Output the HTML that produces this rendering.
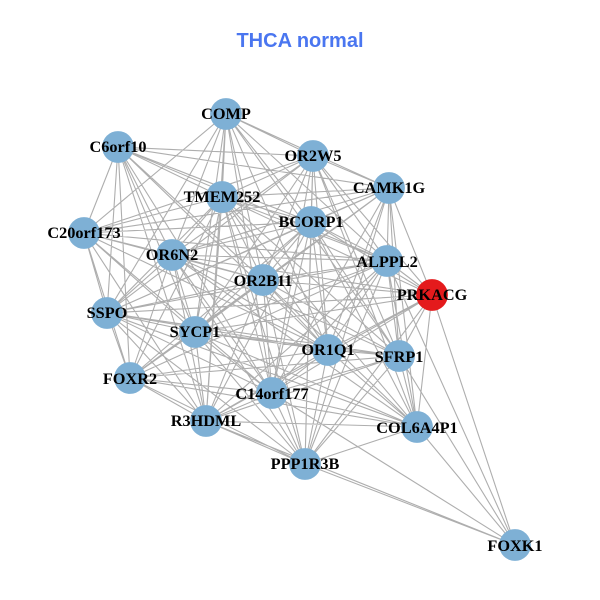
<!DOCTYPE html>
<html>
<head>
<meta charset="utf-8">
<title>THCA normal</title>
<style>
html,body{margin:0;padding:0;background:#fff;width:600px;height:600px;overflow:hidden}
svg{display:block}
.t{font-family:"Liberation Sans",sans-serif;font-weight:bold;font-size:20px;fill:#4a76f0;text-anchor:middle}
.l{font-family:"Liberation Serif",serif;font-weight:bold;font-size:16.3px;fill:#000;text-anchor:middle}
</style>
</head>
<body>
<svg width="600" height="600" viewBox="0 0 600 600" xmlns="http://www.w3.org/2000/svg">
<rect width="600" height="600" fill="#fff"/>
<text class="t" x="300" y="47">THCA normal</text>
<path fill="none" stroke="#aeaeae" stroke-width="1.1" d="
M226 114L84 233M226 114L172 255M226 114L222 197M226 114L263 280M226 114L195 332M226 114L311 222M226 114L313 156M226 114L389 188M226 114L387 261M226 114L328 350M226 114L272 393M226 114L107 313M226 114L206 421M226 114L399 356
M118 147L313 156M118 147L84 233M118 147L107 313M118 147L172 255M118 147L222 197M118 147L311 222M118 147L387 261M118 147L263 280M118 147L195 332M118 147L130 378M118 147L206 421M118 147L328 350M118 147L389 188M118 147L272 393
M313 156L389 188M313 156L222 197M313 156L311 222M313 156L172 255M313 156L84 233M313 156L387 261M313 156L263 280M313 156L195 332M313 156L328 350M313 156L399 356M313 156L107 313M313 156L417 427M313 156L272 393M313 156L305 464M313 156L432 295
M389 188L222 197M389 188L311 222M389 188L387 261M389 188L432 295M389 188L399 356M389 188L417 427M389 188L263 280M389 188L172 255M389 188L195 332M389 188L328 350M389 188L130 378M389 188L272 393M389 188L305 464M389 188L107 313M389 188L84 233
M222 197L311 222M222 197L84 233M222 197L172 255M222 197L263 280M222 197L387 261M222 197L432 295M222 197L107 313M222 197L195 332M222 197L328 350M222 197L399 356M222 197L130 378M222 197L272 393M222 197L206 421M222 197L417 427M222 197L305 464
M311 222L84 233M311 222L172 255M311 222L387 261M311 222L432 295M311 222L263 280M311 222L107 313M311 222L195 332M311 222L328 350M311 222L399 356M311 222L130 378M311 222L272 393M311 222L206 421M311 222L417 427M311 222L305 464
M84 233L172 255M84 233L387 261M84 233L263 280M84 233L107 313M84 233L195 332M84 233L130 378M84 233L328 350M84 233L272 393M84 233L206 421
M172 255L387 261M172 255L263 280M172 255L432 295M172 255L107 313M172 255L195 332M172 255L328 350M172 255L399 356M172 255L130 378M172 255L272 393M172 255L206 421M172 255L417 427M172 255L305 464
M387 261L263 280M387 261L432 295M387 261L107 313M387 261L195 332M387 261L328 350M387 261L399 356M387 261L130 378M387 261L272 393M387 261L206 421M387 261L417 427M387 261L305 464M387 261L515 545
M263 280L432 295M263 280L107 313M263 280L195 332M263 280L328 350M263 280L399 356M263 280L130 378M263 280L272 393M263 280L206 421M263 280L417 427M263 280L305 464
M432 295L107 313M432 295L195 332M432 295L328 350M432 295L399 356M432 295L272 393M432 295L206 421M432 295L417 427M432 295L305 464M432 295L515 545
M107 313L195 332M107 313L328 350M107 313L399 356M107 313L130 378M107 313L272 393M107 313L206 421M107 313L417 427M107 313L305 464
M195 332L328 350M195 332L399 356M195 332L130 378M195 332L272 393M195 332L206 421M195 332L417 427M195 332L305 464
M328 350L399 356M328 350L130 378M328 350L272 393M328 350L206 421M328 350L417 427M328 350L305 464
M399 356L130 378M399 356L272 393M399 356L206 421M399 356L417 427M399 356L305 464M399 356L515 545
M130 378L272 393M130 378L206 421M130 378L417 427M130 378L305 464
M272 393L206 421M272 393L417 427M272 393L305 464M272 393L515 545
M206 421L417 427M206 421L305 464M206 421L515 545
M417 427L305 464M417 427L515 545
M305 464L515 545"/>
<g fill="#7eb0d5">
<circle cx="226" cy="114" r="15.9"/>
<circle cx="118" cy="147" r="15.9"/>
<circle cx="313" cy="156" r="15.9"/>
<circle cx="389" cy="188" r="15.9"/>
<circle cx="222" cy="197" r="15.9"/>
<circle cx="311" cy="222" r="15.9"/>
<circle cx="84" cy="233" r="15.9"/>
<circle cx="172" cy="255" r="15.9"/>
<circle cx="387" cy="261" r="15.9"/>
<circle cx="263" cy="280" r="15.9"/>
<circle cx="432" cy="295" r="15.9" fill="#e41a1c"/>
<circle cx="107" cy="313" r="15.9"/>
<circle cx="195" cy="332" r="15.9"/>
<circle cx="328" cy="350" r="15.9"/>
<circle cx="399" cy="356" r="15.9"/>
<circle cx="130" cy="378" r="15.9"/>
<circle cx="272" cy="393" r="15.9"/>
<circle cx="206" cy="421" r="15.9"/>
<circle cx="417" cy="427" r="15.9"/>
<circle cx="305" cy="464" r="15.9"/>
<circle cx="515" cy="545" r="15.9"/>
</g>
<g class="labels">
<text class="l" x="226" y="119">COMP</text>
<text class="l" x="118" y="152">C6orf10</text>
<text class="l" x="313" y="161">OR2W5</text>
<text class="l" x="389" y="193">CAMK1G</text>
<text class="l" x="222" y="202">TMEM252</text>
<text class="l" x="311" y="227">BCORP1</text>
<text class="l" x="84" y="238">C20orf173</text>
<text class="l" x="172" y="260">OR6N2</text>
<text class="l" x="387" y="267">ALPPL2</text>
<text class="l" x="263" y="286">OR2B11</text>
<text class="l" x="432" y="300">PRKACG</text>
<text class="l" x="107" y="318">SSPO</text>
<text class="l" x="195" y="337">SYCP1</text>
<text class="l" x="328" y="355">OR1Q1</text>
<text class="l" x="399" y="362">SFRP1</text>
<text class="l" x="130" y="384">FOXR2</text>
<text class="l" x="272" y="399">C14orf177</text>
<text class="l" x="206" y="426">R3HDML</text>
<text class="l" x="417" y="433">COL6A4P1</text>
<text class="l" x="305" y="469">PPP1R3B</text>
<text class="l" x="515" y="551">FOXK1</text>
</g>
</svg>
</body>
</html>
